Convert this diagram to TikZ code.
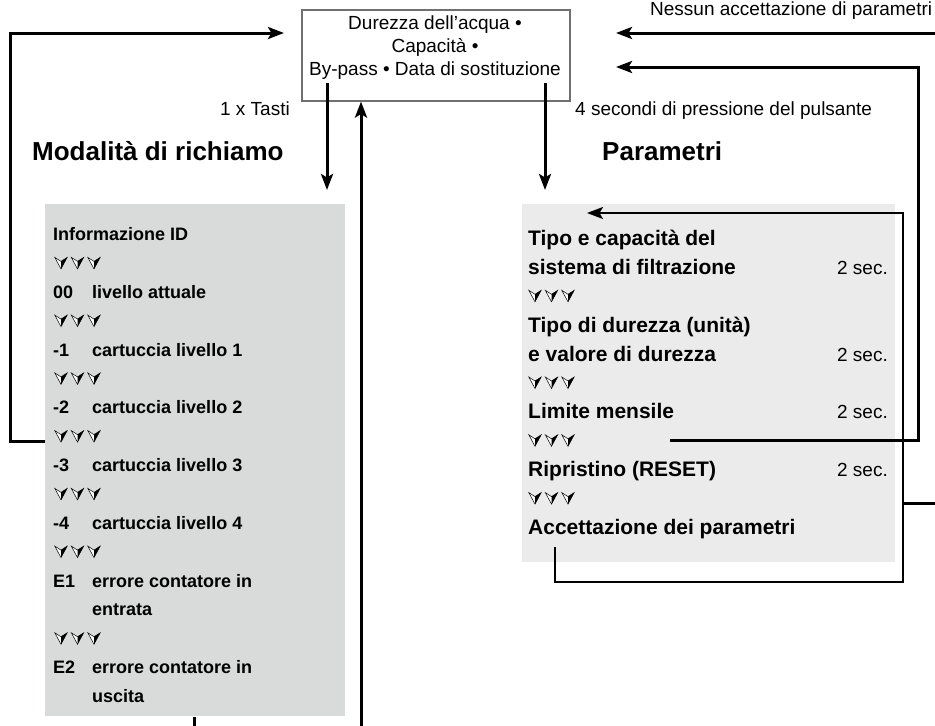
\documentclass[tikz,border=0pt]{standalone}
\usepackage{fontspec}
\setmainfont{Liberation Sans}
\usetikzlibrary{arrows.meta}
\definecolor{panelgrey}{HTML}{D9DADA}
\definecolor{panellight}{HTML}{EBEBEB}
\definecolor{boxline}{HTML}{707070}
\tikzset{
  chev/.pic={
    \filldraw[line width=0.5pt, fill=white] (-6.2,-5.5) -- (0,6) -- (6.2,-5.5) -- (0,-1.5) -- cycle;
    \fill (0,6) -- (6.2,-5.5) -- (0,-1.5) -- cycle;
  },
  chevrow/.pic={
    \pic at (0,0) {chev}; \pic at (16.5,0) {chev}; \pic at (33,0) {chev};
  }
}

\begin{document}
\begin{tikzpicture}[x=1pt, y=-1pt,
    panel/.style={inner sep=0pt, draw=none},
    lbl/.style={font=\fontsize{18}{22}\selectfont\bfseries, inner sep=0pt, anchor=base west},
    rlbl/.style={font=\fontsize{21}{25}\selectfont\bfseries, inner sep=0pt, anchor=base west},
    secs/.style={font=\fontsize{19}{23}\selectfont, inner sep=0pt, anchor=base east},
    plain/.style={font=\fontsize{19}{23}\selectfont, inner sep=0pt},
    head/.style={font=\fontsize{26}{30}\selectfont\bfseries, inner sep=0pt, anchor=base west},
    conn/.style={line width=3pt, -{Stealth[length=16pt, width=12pt, inset=3.5pt]}},
    connthin/.style={line width=1.8pt, -{Stealth[length=16pt, width=12pt, inset=3.5pt]}}]
  \path[use as bounding box] (0,0) rectangle (935,726);

  \node[panel, fill=panelgrey, minimum width=300, minimum height=512] (leftpanel) at (195,460) {};
  \node[panel, fill=panellight, minimum width=373, minimum height=358] (rightpanel) at (708.5,383) {};

  \node[draw=boxline, line width=1.1pt, minimum width=268, minimum height=91, inner sep=0pt] (menu) at (436,55.5) {};
  \node[plain, anchor=base] (menu1) at (435,29) {Durezza dell’acqua •};
  \node[plain, anchor=base] (menu2) at (435,52) {Capacità •};
  \node[plain, anchor=base] (menu3) at (435,75) {By-pass • Data di sostituzione};

  \node[plain, anchor=base west] (nessun) at (650,15) {Nessun accettazione di parametri};
  \node[plain, anchor=base east] (tasti) at (290,115) {1 x Tasti};
  \node[plain, anchor=base west] (press) at (575,115) {4 secondi di pressione del pulsante};
  \node[head] (richiamo) at (32,160) {Modalità di richiamo};
  \node[head] (param) at (602,160) {Parametri};

  \node[lbl] (info) at (53,240.5) {Informazione ID};
  \node[lbl] (c00) at (53,298.25) {00};
  \node[lbl] (t00) at (92,298.25) {livello attuale};
  \node[lbl] (c1) at (53,356) {-1};
  \node[lbl] (t1) at (92,356) {cartuccia livello 1};
  \node[lbl] (c2) at (53,413.75) {-2};
  \node[lbl] (t2) at (92,413.75) {cartuccia livello 2};
  \node[lbl] (c3) at (53,471.5) {-3};
  \node[lbl] (t3) at (92,471.5) {cartuccia livello 3};
  \node[lbl] (c4) at (53,529.25) {-4};
  \node[lbl] (t4) at (92,529.25) {cartuccia livello 4};
  \node[lbl] (ce1) at (53,587) {E1};
  \node[lbl] (te1) at (92,587) {errore contatore in};
  \node[lbl] (te1b) at (92,615.9) {entrata};
  \node[lbl] (ce2) at (53,673.6) {E2};
  \node[lbl] (te2) at (92,673.6) {errore contatore in};
  \node[lbl] (te2b) at (92,702.5) {uscita};
  \foreach \y in {262.9,320.6,378.4,436.1,493.9,551.6,638.25}
    \pic at (61,\y) {chevrow};

  \node[rlbl] (p1a) at (528,245.5) {Tipo e capacità del};
  \node[rlbl] (p1b) at (528,274.4) {sistema di filtrazione};
  \node[secs] (s1) at (888,274.4) {2 sec.};
  \node[rlbl] (p2a) at (528,332.2) {Tipo di durezza (unità)};
  \node[rlbl] (p2b) at (528,361.1) {e valore di durezza};
  \node[secs] (s2) at (888,361.1) {2 sec.};
  \node[rlbl] (p3) at (528,418.9) {Limite mensile};
  \node[secs] (s3) at (888,418.9) {2 sec.};
  \node[rlbl] (p4) at (528,476.7) {Ripristino (RESET)};
  \node[secs] (s4) at (888,476.7) {2 sec.};
  \node[rlbl] (p5) at (528,534.5) {Accettazione dei parametri};
  \foreach \y in {295.8,382.5,440.3,498.1}
    \pic at (535,\y) {chevrow};

  \coordinate (loopL) at (45,441);
  \coordinate (inL) at (284,33);
  \coordinate (tastiA) at (327,83);
  \coordinate (tastiB) at (327,190);
  \coordinate (retL) at (361,726);
  \coordinate (stubA) at (194,717);
  \coordinate (stubB) at (194,726);
  \coordinate (pressA) at (545,83);
  \coordinate (pressB) at (545,190);
  \coordinate (nessA) at (935,33);
  \coordinate (nessB) at (616,33);
  \coordinate (limA) at (670,440);
  \coordinate (limB) at (616,67);
  \coordinate (accA) at (555,547);
  \coordinate (accB) at (587,213);
  \coordinate (exitA) at (903,503);
  \coordinate (exitB) at (935,503);

  \draw[conn] (loopL) -- (10,441) |- (inL);
  \draw[conn] (tastiA) -- (tastiB);
  \draw[conn] (retL) -- (retL |- menu.south);
  \draw[line width=3pt] (stubA) -- (stubB);
  \draw[conn] (pressA) -- (pressB);
  \draw[conn] (nessA) -- (nessB);
  \draw[conn] (limA) -| (918,67) -- (limB);
  \draw[connthin] (accA) -- (555,582) -| (903,213) -- (accB);
  \draw[line width=3pt] (exitA) -- (exitB);
\end{tikzpicture}
\end{document}
